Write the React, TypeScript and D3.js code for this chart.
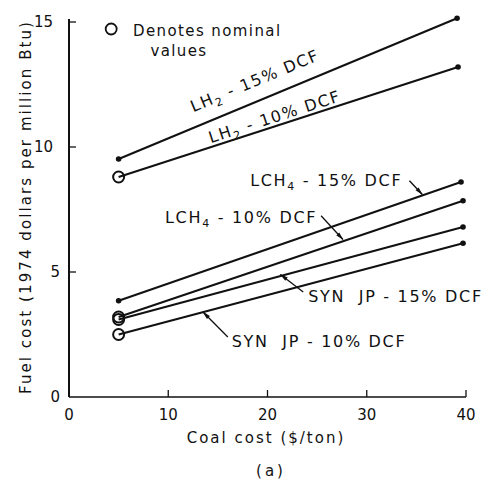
import React, { useEffect, useRef } from "react";
import * as d3 from "d3";

// Fuel cost vs coal cost, two ends of each straight line
const SERIES = ["LH2-15", "LH2-10", "LCH4-15", "LCH4-10", "SYNJP-15", "SYNJP-10"];
const COAL_COST = [[5, 39.1], [5, 39.2], [5, 39.5], [5, 39.7], [5, 39.7], [5, 39.7]];
const FUEL_COST = [[9.52, 15.15], [8.8, 13.2], [3.85, 8.6], [3.2, 7.85], [3.1, 6.8], [2.5, 6.15]];
const NOMINAL = [false, true, false, true, true, true];

const X_TICKS = [0, 10, 20, 30, 40];
const Y_TICKS = [0, 5, 10, 15];

const FONT = "'DejaVu Sans', sans-serif";
const INK = "#111";

export default function App() {
  const svgRef = useRef<SVGSVGElement>(null);

  useEffect(() => {
    document.body.style.margin = "0";
    const width = 489, height = 483;
    const svg = d3.select(svgRef.current).attr("width", width).attr("height", height);
    svg.selectAll("*").remove();
    svg.append("rect").attr("width", width).attr("height", height).attr("fill", "#fff");

    const x = d3.scaleLinear().domain([0, 40]).range([69, 466]);
    const y = d3.scaleLinear().domain([0, 15]).range([397, 22]);

    const defs = svg.append("defs");
    defs.append("marker")
      .attr("id", "arrow")
      .attr("viewBox", "0 0 12 10")
      .attr("refX", 11).attr("refY", 5)
      .attr("markerWidth", 9).attr("markerHeight", 7)
      .attr("markerUnits", "userSpaceOnUse")
      .attr("orient", "auto")
      .append("path").attr("d", "M0,2 L12,5 L0,8 Z").attr("fill", INK);

    const g = svg.append("g").style("font-family", FONT).attr("fill", INK);

    // axes
    g.append("line").attr("x1", x(0)).attr("x2", x(0)).attr("y1", y(0)).attr("y2", y(15) - 3)
      .attr("stroke", INK).attr("stroke-width", 2);
    g.append("line").attr("x1", x(0)).attr("x2", x(40)).attr("y1", y(0)).attr("y2", y(0))
      .attr("stroke", INK).attr("stroke-width", 1.6);

    g.selectAll(".ytick").data(Y_TICKS.filter(d => d > 0)).join("line")
      .attr("x1", x(0)).attr("x2", x(0) + 7)
      .attr("y1", d => y(d)).attr("y2", d => y(d))
      .attr("stroke", INK).attr("stroke-width", 1.3);
    g.selectAll(".xtick").data(X_TICKS.filter(d => d > 0)).join("line")
      .attr("x1", d => x(d)).attr("x2", d => x(d))
      .attr("y1", y(0)).attr("y2", y(0) - 7)
      .attr("stroke", INK).attr("stroke-width", 1.3);

    g.selectAll(".ylab").data(Y_TICKS).join("text")
      .attr("x", d => (d < 10 ? x(0) - 9 : x(0) - 16))
      .attr("y", d => y(d) + 5)
      .attr("text-anchor", "end")
      .style("font-size", "15px")
      .text(d => d);
    g.selectAll(".xlab").data(X_TICKS).join("text")
      .attr("x", d => x(d)).attr("y", y(0) + 23)
      .attr("text-anchor", "middle")
      .style("font-size", "15px")
      .text(d => d);

    g.append("text")
      .attr("x", 266).attr("y", 443)
      .attr("text-anchor", "middle")
      .style("font-size", "15px").style("letter-spacing", "2px")
      .text("Coal cost ($/ton)");
    g.append("text")
      .attr("x", 271).attr("y", 476)
      .attr("text-anchor", "middle")
      .style("font-size", "15px").style("letter-spacing", "3px")
      .text("(a)");
    g.append("text")
      .attr("transform", "translate(31,208) rotate(-90)")
      .attr("text-anchor", "middle")
      .style("font-size", "15px")
      .attr("textLength", 372).attr("lengthAdjust", "spacing")
      .text("Fuel cost (1974 dollars per million Btu)");

    // lines
    const line = d3.line<[number, number]>().x(d => x(d[0])).y(d => y(d[1]));
    SERIES.forEach((name, i) => {
      const pts: [number, number][] = [
        [COAL_COST[i][0], FUEL_COST[i][0]],
        [COAL_COST[i][1], FUEL_COST[i][1]],
      ];
      g.append("path").attr("d", line(pts)).attr("fill", "none")
        .attr("stroke", INK).attr("stroke-width", 2);
      g.append("circle").attr("cx", x(pts[1][0])).attr("cy", y(pts[1][1])).attr("r", 2.8).attr("fill", INK);
      if (NOMINAL[i]) {
        g.append("circle").attr("cx", x(pts[0][0])).attr("cy", y(pts[0][1])).attr("r", 5.5)
          .attr("fill", "none").attr("stroke", INK).attr("stroke-width", 2);
      } else {
        g.append("circle").attr("cx", x(pts[0][0])).attr("cy", y(pts[0][1])).attr("r", 2.8).attr("fill", INK);
      }
    });

    // legend note
    g.append("circle").attr("cx", x(4.25)).attr("cy", y(14.72)).attr("r", 5.5)
      .attr("fill", "none").attr("stroke", INK).attr("stroke-width", 1.8);
    g.append("text").attr("x", x(6.45)).attr("y", y(14.45))
      .style("font-size", "15px").style("letter-spacing", "1.4px").text("Denotes nominal");
    g.append("text").attr("x", x(8.2)).attr("y", y(13.65))
      .style("font-size", "15px").style("letter-spacing", "1.4px").text("values");

    // rotated LH2 labels, following their lines
    const angleOf = (i: number) => {
      const dx = x(COAL_COST[i][1]) - x(COAL_COST[i][0]);
      const dy = y(FUEL_COST[i][1]) - y(FUEL_COST[i][0]);
      return (Math.atan2(dy, dx) * 180) / Math.PI;
    };
    const subLabel = (sel: any, base: string, sub: string, rest: string) => {
      sel.append("tspan").text(base);
      sel.append("tspan").attr("dy", 4).style("font-size", "11px").text(sub);
      sel.append("tspan").attr("dy", -4).text(rest);
    };
    const rotated = [
      { i: 0, cx: 18.95, cy: 12.45, sub: "2", rest: " - 15% DCF" },
      { i: 1, cx: 20.9, cy: 11.0, sub: "2", rest: " - 10% DCF" },
    ];
    rotated.forEach(r => {
      const t = g.append("text")
        .attr("transform", `translate(${x(r.cx)},${y(r.cy)}) rotate(${angleOf(r.i)})`)
        .attr("text-anchor", "middle")
        .style("font-size", "16px").style("letter-spacing", "1.6px");
      subLabel(t, "LH", r.sub, r.rest);
    });

    // horizontal labels with arrows
    const flat = [
      { tx: 18.25, ty: 8.44, base: "LCH", sub: "4", rest: " - 15% DCF", a: [[34.3, 8.65], [35.6, 8.1]] },
      { tx: 9.67, ty: 6.96, base: "LCH", sub: "4", rest: " - 10% DCF", a: [[25.4, 7.25], [27.6, 6.3]] },
      { tx: 24.1, ty: 3.8, base: "SYN  JP - 15% DCF", sub: "", rest: "", a: [[23.6, 4.2], [21.3, 4.9]] },
      { tx: 16.4, ty: 2.0, base: "SYN  JP - 10% DCF", sub: "", rest: "", a: [[16.0, 2.4], [13.5, 3.4]] },
    ];
    flat.forEach(f => {
      const t = g.append("text").attr("x", x(f.tx)).attr("y", y(f.ty))
        .style("font-size", "16px").style("letter-spacing", "1.7px")
        .style("white-space", "pre");
      if (f.sub) subLabel(t, f.base, f.sub, f.rest);
      else t.text(f.base);
      g.append("line")
        .attr("x1", x(f.a[0][0])).attr("y1", y(f.a[0][1]))
        .attr("x2", x(f.a[1][0])).attr("y2", y(f.a[1][1]))
        .attr("stroke", INK).attr("stroke-width", 1.3)
        .attr("marker-end", "url(#arrow)");
    });
  }, []);

  return <svg ref={svgRef} style={{ display: "block" }} />;
}
